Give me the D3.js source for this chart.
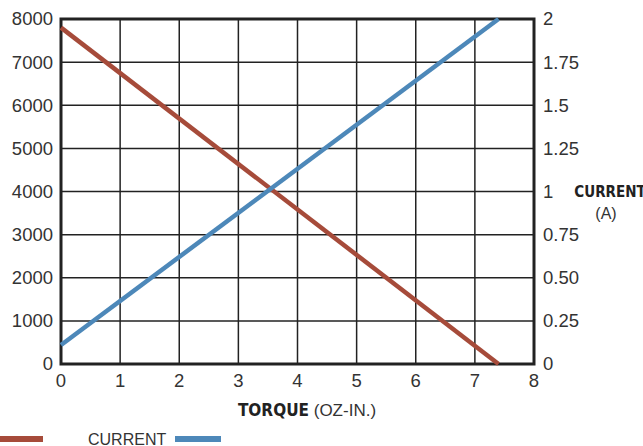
<!DOCTYPE html>
<html>
<head>
<meta charset="utf-8">
<script src="https://cdn.jsdelivr.net/npm/d3@7"></script>
<style>
  body { margin: 0; background: #fff; }
  text { font-family: "Liberation Sans", Arial, sans-serif; fill: #333; }
  .cond { font-family: "Liberation Sans Narrow", "DejaVu Sans Condensed", sans-serif; }
</style>
</head>
<body>
<div id="chart"></div>
<script>
// data
var torque = [0, 7.4];
var speed = [7800, 0];
var current = [0.11, 2.0];
var xTicks = [0, 1, 2, 3, 4, 5, 6, 7, 8];
var speedTicks = [0, 1000, 2000, 3000, 4000, 5000, 6000, 7000, 8000];
var currentTicks = [0, 0.25, 0.5, 0.75, 1, 1.25, 1.5, 1.75, 2];
var currentLabels = ['0', '0.25', '0.50', '0.75', '1', '1.25', '1.5', '1.75', '2'];

var width = 643, height = 446;
var margin = { top: 19, right: 109, bottom: 82, left: 61 };

var svg = d3.select('#chart')
  .append('svg')
  .attr('width', width)
  .attr('height', height);

var x = d3.scaleLinear().domain([0, 8]).range([margin.left, width - margin.right]);
var y = d3.scaleLinear().domain([0, 8000]).range([height - margin.bottom, margin.top]);
var y2 = d3.scaleLinear().domain([0, 2]).range([height - margin.bottom, margin.top]);

// grid
svg.append('g').selectAll('line.v')
  .data(xTicks).enter().append('line')
  .attr('x1', function(d){ return x(d); }).attr('x2', function(d){ return x(d); })
  .attr('y1', y(0)).attr('y2', y(8000))
  .attr('stroke', '#222').attr('stroke-width', 1.5);
svg.append('g').selectAll('line.h')
  .data(speedTicks).enter().append('line')
  .attr('y1', function(d){ return y(d); }).attr('y2', function(d){ return y(d); })
  .attr('x1', x(0)).attr('x2', x(8))
  .attr('stroke', '#222').attr('stroke-width', 1.5);

// frame
svg.append('rect')
  .attr('x', x(0)).attr('y', y(8000))
  .attr('width', x(8) - x(0)).attr('height', y(0) - y(8000))
  .attr('fill', 'none').attr('stroke', '#222').attr('stroke-width', 3);

// tick labels
svg.append('g').selectAll('text')
  .data(speedTicks).enter().append('text')
  .attr('x', x(0) - 8).attr('y', function(d){ return y(d); })
  .attr('dy', '0.35em').attr('text-anchor', 'end')
  .style('font-size', '18.5px')
  .text(function(d){ return d; });

svg.append('g').selectAll('text')
  .data(currentTicks).enter().append('text')
  .attr('x', x(8) + 9).attr('y', function(d){ return y2(d); })
  .attr('dy', '0.35em')
  .style('font-size', '18.5px')
  .text(function(d, i){ return currentLabels[i]; });

svg.append('g').selectAll('text')
  .data(xTicks).enter().append('text')
  .attr('x', function(d){ return x(d); }).attr('y', y(0) + 23)
  .attr('text-anchor', 'middle')
  .style('font-size', '18.5px')
  .text(function(d){ return d; });

// axis titles
var xt = svg.append('text')
  .attr('x', 307).attr('y', 416)
  .attr('text-anchor', 'middle')
  .style('font-size', '17px');
xt.append('tspan').attr('class', 'cond').style('font-weight', 'bold').style('fill', '#222').text('TORQUE');
xt.append('tspan').text(' (OZ-IN.)');

svg.append('text')
  .attr('class', 'cond')
  .attr('x', 610).attr('y', 197)
  .attr('text-anchor', 'middle')
  .style('font-size', '15px').style('font-weight', 'bold').style('fill', '#222')
  .text('CURRENT');
svg.append('text')
  .attr('x', 606).attr('y', 219)
  .attr('text-anchor', 'middle')
  .style('font-size', '16px')
  .text('(A)');

// lines
var speedLine = d3.line()
  .x(function(d, i){ return x(torque[i]); })
  .y(function(d){ return y(d); });
var currentLine = d3.line()
  .x(function(d, i){ return x(torque[i]); })
  .y(function(d){ return y2(d); });

svg.append('path')
  .attr('d', speedLine(speed))
  .attr('fill', 'none').attr('stroke', '#a64b3a').attr('stroke-width', 4.5);
svg.append('path')
  .attr('d', currentLine(current))
  .attr('fill', 'none').attr('stroke', '#4d88b9').attr('stroke-width', 4.5);

// legend
svg.append('line')
  .attr('x1', 0).attr('x2', 43).attr('y1', 439).attr('y2', 439)
  .attr('stroke', '#a64b3a').attr('stroke-width', 6);
svg.append('text')
  .attr('x', 88).attr('y', 445)
  .style('font-size', '16px')
  .text('CURRENT');
svg.append('line')
  .attr('x1', 175).attr('x2', 221).attr('y1', 439).attr('y2', 439)
  .attr('stroke', '#4d88b9').attr('stroke-width', 6);
</script>
</body>
</html>
